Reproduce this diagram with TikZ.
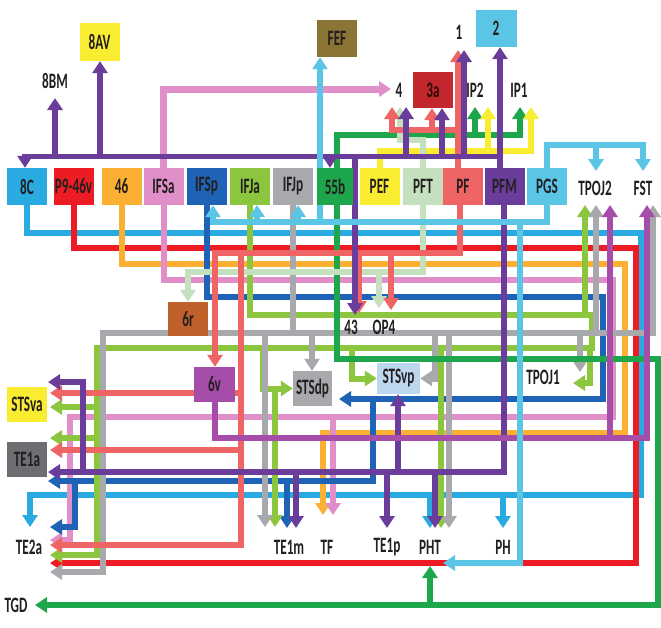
\documentclass[tikz,border=0pt]{standalone}
\usepackage{fontspec}
\setmainfont{Carlito}[FakeStretch=0.6]
\usetikzlibrary{arrows.meta}
\pgfdeclarelayer{paper}
\pgfdeclarelayer{wires}
\pgfsetlayers{paper,wires,main}
\definecolor{txt}{HTML}{231F20}
\definecolor{c8C}{HTML}{29ABE2}
\definecolor{cP9}{HTML}{ED1C24}
\definecolor{c46}{HTML}{FBB034}
\definecolor{cIFSa}{HTML}{E18FC8}
\definecolor{cIFSp}{HTML}{1F63B6}
\definecolor{cIFJa}{HTML}{8CC63F}
\definecolor{cIFJp}{HTML}{A7A9AC}
\definecolor{c55b}{HTML}{1DA64B}
\definecolor{cPEF}{HTML}{F9EC31}
\definecolor{cPFT}{HTML}{C5E0BF}
\definecolor{cPF}{HTML}{EF6565}
\definecolor{cPFM}{HTML}{6A3D9A}
\definecolor{cPGS}{HTML}{5BC5E6}
\definecolor{c6r}{HTML}{C0612B}
\definecolor{c6v}{HTML}{A54DA8}
\definecolor{cFEF}{HTML}{8B7535}
\definecolor{c3a}{HTML}{C1272D}
\definecolor{cSTSvp}{HTML}{BDD7EE}
\definecolor{cTE1a}{HTML}{6D6E71}
\newcommand{\lblfont}{\bfseries\fontsize{22}{24}\selectfont}

\begin{document}
\begin{tikzpicture}[x=1pt, y=-1pt, >={Triangle[width=15pt,length=12pt]},
  box/.style={minimum width=40pt, minimum height=37pt, inner sep=0pt, font=\lblfont, text=txt},
  lbl/.style={inner sep=0pt, font=\lblfont, text=txt},
  wire/.style={line width=6pt}]
  \begin{pgfonlayer}{paper}
    \fill[white] (0,0) rectangle (661,627);
  \end{pgfonlayer}
  \useasboundingbox (0,0) rectangle (661,627);
  % Row of frontal areas
  \node[box, fill=c8C]   (a8c)   at (27,186.5)  {8C};
  \node[box, fill=cP9]   (p946v) at (73.5,186.5) {P9-46v};
  \node[box, fill=c46]   (a46)   at (121.5,186.5) {46};
  \node[box, fill=cIFSa] (ifsa)  at (163.5,186.5) {IFSa};
  \node[box, fill=cIFSp] (ifsp)  at (206.5,186.5) {IFSp};
  \node[box, fill=cIFJa] (ifja)  at (250,186.5)  {IFJa};
  \node[box, fill=cIFJp] (ifjp)  at (293,186.5)  {IFJp};
  \node[box, fill=c55b, minimum width=36pt] (a55b) at (335,186.5) {55b};
  \node[box, fill=cPEF]  (pef)   at (379.5,186.5) {PEF};
  \node[box, fill=cPFT]  (pft)   at (423,186.5)  {PFT};
  \node[box, fill=cPF]   (pf)    at (463,186.5)  {PF};
  \node[box, fill=cPFM]  (pfm)   at (504.5,186.5) {PFM};
  \node[box, fill=cPGS]  (pgs)   at (547,186.5)  {PGS};
  \node[lbl] (tpojtwo) at (595,188) {TPOJ2};
  \node[lbl] (fst)     at (643,188) {FST};
  % Targets above the row
  \node[box, fill=cPEF, minimum height=38pt] (a8av) at (99.5,42) {8AV};
  \node[lbl] (a8bm) at (55,81) {8BM};
  \node[box, fill=cFEF] (fef) at (337,38.5) {FEF};
  \node[lbl] (one) at (459,32) {1};
  \node[box, fill=cPGS, minimum width=41pt] (two) at (496,28.5) {2};
  \node[lbl] (four) at (399,90) {4};
  \node[box, fill=c3a, minimum height=36pt, text=black!75!c3a] (a3a) at (433,90) {3a};
  \node[lbl] (ipii) at (475,90) {IP2};
  \node[lbl] (ipi)  at (519,90) {IP1};
  % Targets below the row
  \node[box, fill=c6r, minimum height=34pt] (a6r) at (188,319) {6r};
  \node[lbl] (a43) at (351,327) {43};
  \node[lbl] (op4) at (384,327) {OP4};
  \node[box, fill=c6v, minimum width=41pt, minimum height=35pt] (a6v) at (214.5,384.5) {6v};
  \node[box, fill=cIFJp, minimum width=39pt, minimum height=35pt] (stsdp) at (312.5,388.5) {STSdp};
  \node[box, fill=cSTSvp, minimum width=43pt, minimum height=31pt] (stsvp) at (398.5,378.5) {STSvp};
  \node[lbl] (tpojone) at (543,377) {TPOJ1};
  \node[box, fill=cPEF, minimum height=35pt] (stsva) at (27,404.5) {STSva};
  \node[box, fill=cTE1a, minimum height=35pt] (teia) at (27,459.5) {TE1a};
  \node[lbl] (teiia) at (29,547) {TE2a};
  \node[lbl] (teim)  at (289,547) {TE1m};
  \node[lbl] (tf)    at (327,547) {TF};
  \node[lbl] (teip)  at (387,547) {TE1p};
  \node[lbl] (pht)   at (430,547) {PHT};
  \node[lbl] (ph)    at (503,547) {PH};
  \node[lbl] (tgd)   at (16,605) {TGD};

  \begin{pgfonlayer}{wires}
  % 8C
  \draw[wire, c8C, ->] (a8c.south) |- (641,233) |- (30,495) -- (30,527);
  \draw[wire, c8C, ->] (430,495) -- (430,528);
  \draw[wire, c8C, ->] (503,495) -- (503,528);
  % P9-46v
  \draw[wire, cP9, ->] (p946v.south) |- (636,248) |- (50,563);
  % 46
  \draw[wire, c46, ->] (a46.south) |- (625,264) |- (323,433) -- (323,515);
  % IFSa
  \draw[wire, cIFSa, line width=7pt, ->] (ifsa.north) |- (391,89);
  \draw[wire, cIFSa, ->] (ifsa.south) |- (613,280) |- (70,417) |- (50,540);
  \draw[wire, cIFSa, ->] (333,417) -- (333,515);
  % IFSp
  \draw[wire, cIFSp, ->] (ifsp.south) |- (603,297) |- (339,399);
  \draw[wire, cIFSp, ->] (373,399) |- (48,481);
  \draw[wire, cIFSp, ->] (287,481) -- (287,528);
  \draw[wire, cIFSp, ->] (75,481) |- (50,527);
  % IFJa
  \draw[wire, cIFJa, ->] (ifja.south) |- (592,315) |- (97,348) |- (50,555);
  \draw[wire, cIFJa, ->] (585,315) -- (585,205);
  \draw[wire, cIFJa, ->] (590,348) |- (573,383);
  \draw[wire, cIFJa, ->] (97,407) -- (50,407);
  \draw[wire, cIFJa, ->] (97,438) -- (50,438);
  \draw[wire, cIFJa, ->] (263,348) |- (stsdp.west);
  \draw[wire, cIFJa, ->] (275,388) -- (275,527);
  \draw[wire, cIFJa, ->] (352,348) |- (stsvp.west);
  \draw[wire, cIFJa, ->] (441,348) -- (441,528);
  % IFJp
  \draw[wire, cIFJp, ->] (ifjp.south) |- (653,333) -- (653,205);
  \draw[wire, cIFJp, ->] (293,333) -| (103,572) -- (50,572);
  \draw[wire, cIFJp, ->] (596,333) -- (596,205);
  \draw[wire, cIFJp, ->] (312,333) -- (312,333 |- stsdp.north);
  \draw[wire, cIFJp, ->] (265,333) -- (265,527);
  \draw[wire, cIFJp, ->] (435,333) |- (stsvp.east);
  \draw[wire, cIFJp, ->] (449,333) -- (449,528);
  \draw[wire, cIFJp, ->] (580,333) -- (580,372);
  % 55b
  \draw[wire, c55b, ->] (337,168) |- (520,135) -- (520,107);
  \draw[wire, c55b, ->] (475,135) -- (475,107);
  \draw[wire, c55b, ->] (337,205) |- (658,359) |- (35,605);
  \draw[wire, c55b, ->] (430,605) -- (430,566);
  % PEF
  \draw[wire, cPEF, ->] (pef.north) |- (531,151) -- (531,107);
  \draw[wire, cPEF, ->] (488,151) -- (488,107);
  % PFT
  \draw[wire, cPFT, ->] (pft.north) |- (400,140) -- (400,107);
  \draw[wire, cPFT, ->] (pft.south) |- (188,272) -- (188,272 |- a6r.north);
  \draw[wire, cPFT, ->] (379,272) -- (379,308);
  % PF
  \draw[wire, cPF, ->] (458,168) -- (458,50);
  \draw[wire, cPF, ->] (458,130) -| (392,107);
  \draw[wire, cPF, ->] (432,130) -- (432,130 |- a3a.south);
  \draw[wire, cPF, ->] (460,205) |- (215,253) -- (215,253 |- a6v.north);
  \draw[wire, cPF, ->] (391,253) -- (391,310);
  \draw[wire, cPF, ->] (359,253) -- (359,313);
  \draw[wire, cPF, ->] (241,253) |- (50,545);
  \draw[wire, cPF, ->] (241,393) -- (50,393);
  \draw[wire, cPF, ->] (241,450) -- (50,450);
  % PFM
  \draw[wire, cPFM, line width=5pt] (22,156) -- (500,156);
  \draw[wire, cPFM, ->] (500,168) -- (500,156 |- two.south);
  \draw[wire, cPFM, ->] (464,156) -- (464,50);
  \draw[wire, cPFM, ->] (442,156) -- (442,156 |- a3a.south);
  \draw[wire, cPFM, ->] (406,156) -- (406,107);
  \draw[wire, cPFM, ->] (355,156) -- (355,315);
  \draw[wire, cPFM, ->] (330,156) -- (330,156 |- a55b.north);
  \draw[wire, cPFM, ->] (100,156) -- (100,156 |- a8av.south);
  \draw[wire, cPFM, ->] (55,156) -- (55,98);
  \draw[wire, cPFM, ->] (25,156) -- (25,156 |- a8c.north);
  \draw[wire, cPFM, ->] (504,205) |- (48,472);
  \draw[wire, cPFM, ->] (83,472) |- (48,382);
  \draw[wire, cPFM, ->] (296,472) -- (296,528);
  \draw[wire, cPFM, ->] (387,472) -- (387,528);
  \draw[wire, cPFM, ->] (435,472) -- (435,528);
  \draw[wire, cPFM, ->] (398,472) -- (398,472 |- stsvp.south);
  % 6v
  \draw[wire, c6v, ->] (a6v.south) |- (647,438) -- (647,205);
  \draw[wire, c6v, ->] (610,438) -- (610,205);
  % PGS
  \draw[wire, cPGS, ->] (pgs.north) |- (643,145) -- (643,171);
  \draw[wire, cPGS, ->] (596,145) -- (596,171);
  \draw[wire, cPGS] (pgs.south) |- (210,222);
  \draw[wire, cPGS, ->] (213,222) -- (213,222 |- ifsp.south);
  \draw[wire, cPGS, ->] (257,222) -- (257,205);
  \draw[wire, cPGS, ->] (298,222) -- (298,205);
  \draw[wire, cPGS, ->] (320,222) -- (320,222 |- fef.south);
  \draw[wire, cPGS, ->] (520,222) |- (443,563);
  \end{pgfonlayer}
\end{tikzpicture}
\end{document}
